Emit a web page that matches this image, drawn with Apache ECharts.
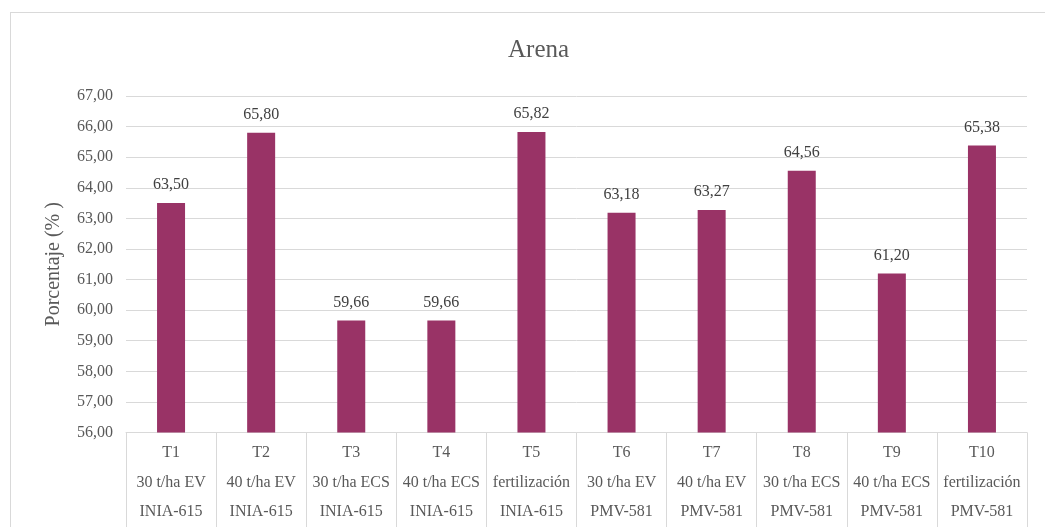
<!DOCTYPE html>
<html>
<head>
<meta charset="utf-8">
<script src="https://cdn.jsdelivr.net/npm/echarts@6/dist/echarts.min.js"></script>
<style>
  html, body { margin: 0; padding: 0; background: #fff; }
  #frame { position: absolute; left: 10px; top: 12px; width: 1100px; height: 600px;
           border-left: 1px solid #d9d9d9; border-top: 1px solid #d9d9d9; }
  #chart { position: absolute; left: 0; top: 0; width: 1045px; height: 527px; }
</style>
</head>
<body>
<div id="frame"></div>
<div id="chart"></div>
<script>
// Treatments (three label rows under each bar)
const codes = ['T1', 'T2', 'T3', 'T4', 'T5', 'T6', 'T7', 'T8', 'T9', 'T10'];
const doses = ['30 t/ha EV', '40 t/ha EV', '30 t/ha ECS', '40 t/ha ECS', 'fertilización',
               '30 t/ha EV', '40 t/ha EV', '30 t/ha ECS', '40 t/ha ECS', 'fertilización'];
const varieties = ['INIA-615', 'INIA-615', 'INIA-615', 'INIA-615', 'INIA-615',
                   'PMV-581', 'PMV-581', 'PMV-581', 'PMV-581', 'PMV-581'];
// Sand content (%)
const arena = [63.50, 65.80, 59.66, 59.66, 65.82, 63.18, 63.27, 64.56, 61.20, 65.38];

const categories = codes.map((c, i) => c + '\n' + doses[i] + '\n' + varieties[i]);
const fmt = v => Number(v).toFixed(2).replace('.', ',');
const serif = 'Liberation Serif, Times New Roman, serif';

const chart = echarts.init(document.getElementById('chart'));
chart.setOption({
  animation: false,
  title: {
    text: 'Arena',
    left: 503,
    top: 33,
    textStyle: { fontFamily: serif, fontSize: 25, fontWeight: 'normal', color: '#595959' }
  },
  grid: { left: 126, right: 18, top: 96, bottom: 93, containLabel: false },
  xAxis: {
    type: 'category',
    data: categories,
    axisLine: { show: true, lineStyle: { color: '#d9d9d9', width: 1 } },
    axisTick: { show: true, length: 100, lineStyle: { color: '#d9d9d9', width: 1 } },
    axisLabel: {
      interval: 0,
      margin: 6,
      lineHeight: 29.5,
      fontFamily: serif,
      fontSize: 16,
      color: '#595959'
    }
  },
  yAxis: {
    type: 'value',
    min: 56,
    max: 67,
    interval: 1,
    name: 'Porcentaje (% )',
    nameLocation: 'middle',
    nameGap: 62,
    nameTextStyle: { fontFamily: serif, fontSize: 20, color: '#595959' },
    axisLine: { show: false },
    axisTick: { show: false },
    splitLine: { lineStyle: { color: '#d9d9d9', width: 1 } },
    axisLabel: {
      margin: 13,
      fontFamily: serif,
      fontSize: 16,
      color: '#595959',
      formatter: fmt
    }
  },
  series: [{
    type: 'bar',
    data: arena,
    barWidth: 28,
    itemStyle: { color: '#993366' },
    label: {
      show: true,
      position: 'top',
      distance: 10,
      fontFamily: serif,
      fontSize: 16,
      color: '#404040',
      formatter: p => fmt(p.value)
    }
  }]
});
</script>
</body>
</html>
